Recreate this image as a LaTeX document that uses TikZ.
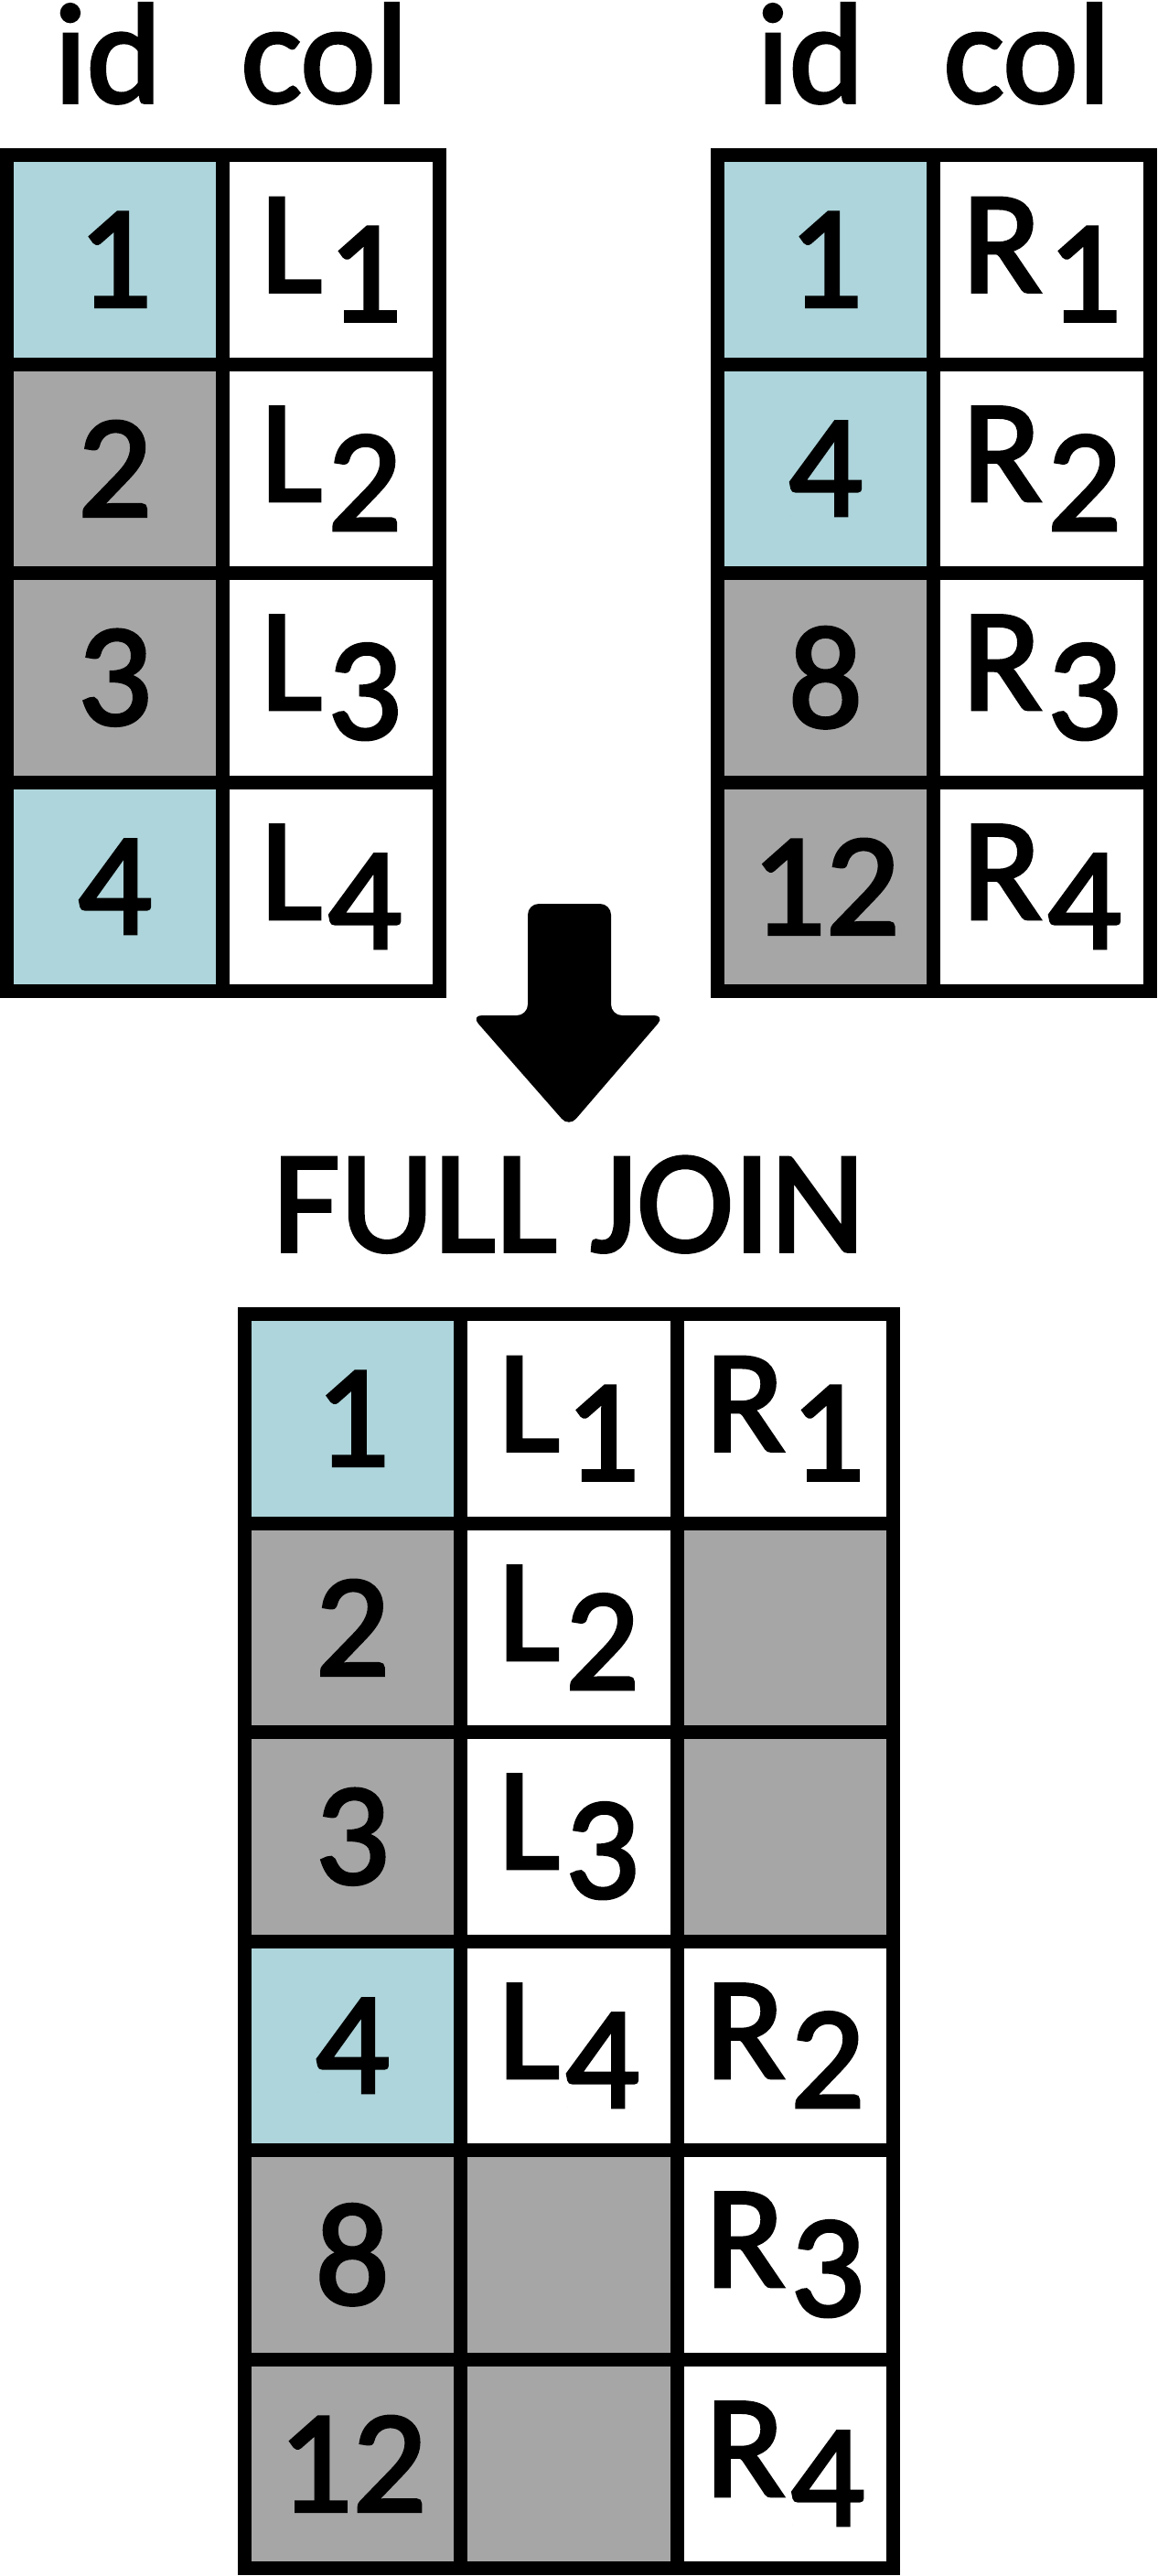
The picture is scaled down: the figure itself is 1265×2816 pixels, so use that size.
\documentclass[tikz,border=0pt]{standalone}
\usepackage{fontspec}
\setmainfont[FakeBold=2.3]{Carlito}
\usetikzlibrary{positioning}
\definecolor{keyblue}{HTML}{ADD5DB}
\definecolor{nokey}{HTML}{A6A6A6}
\newcommand{\sub}[2]{#1\kern1.5pt\raisebox{-8pt}{#2}}

\begin{document}
\begin{tikzpicture}[x=0.25pt,y=-0.25pt,node distance=0pt,
	cell/.style={draw=black,line width=3.75pt,fill=white,minimum width=59.125pt,minimum height=57.125pt,
		inner sep=0pt,outer sep=0pt,font=\fontsize{40}{48}\selectfont},
	match/.style={cell,fill=keyblue},
	nomatch/.style={cell,fill=nokey},
	head/.style={anchor=base,inner sep=0pt,font=\fontsize{39}{46}\selectfont}]
		\useasboundingbox (0,0) rectangle (1265,2816);

		% left table
		\node[head] (lid) at (118,112) {id};
		\node[head] (lcol) at (355,112) {col};
		\node[match] (l1) at (125.5,283.75) {1};
		\node[cell] (l1c) [right=of l1] {\sub{L}{1}};
		\node[nomatch] (l2) [below=of l1] {2};
		\node[cell] (l2c) [right=of l2] {\sub{L}{2}};
		\node[nomatch] (l3) [below=of l2] {3};
		\node[cell] (l3c) [right=of l3] {\sub{L}{3}};
		\node[match] (l4) [below=of l3] {4};
		\node[cell] (l4c) [right=of l4] {\sub{L}{4}};

		% right table
		\node[head] (rid) at (886,112) {id};
		\node[head] (rcol) at (1123,112) {col};
		\node[match] (r1) at (902.5,283.75) {1};
		\node[cell] (r1c) [right=of r1] {\sub{R}{1}};
		\node[match] (r2) [below=of r1] {4};
		\node[cell] (r2c) [right=of r2] {\sub{R}{2}};
		\node[nomatch] (r3) [below=of r2] {8};
		\node[cell] (r3c) [right=of r3] {\sub{R}{3}};
		\node[nomatch] (r4) [below=of r3] {12};
		\node[cell] (r4c) [right=of r4] {\sub{R}{4}};

		% arrow
		\fill[black,rounded corners=3pt] (577,988) -- (668,988) -- (668,1110) -- (727,1110)
			-- (622,1232) -- (515,1110) -- (577,1110) -- cycle;
		\node[head,font=\fontsize{40}{48}\selectfont] (join) at (622,1368) {FULL JOIN};

		% result
		\node[match] (f1) at (385.25,1550.75) {1};
		\node[cell] (f1l) [right=of f1] {\sub{L}{1}};
		\node[cell] (f1r) [right=of f1l] {\sub{R}{1}};
		\node[nomatch] (f2) [below=of f1] {2};
		\node[cell] (f2l) [right=of f2] {\sub{L}{2}};
		\node[nomatch] (f2r) [right=of f2l] {};
		\node[nomatch] (f3) [below=of f2] {3};
		\node[cell] (f3l) [right=of f3] {\sub{L}{3}};
		\node[nomatch] (f3r) [right=of f3l] {};
		\node[match] (f4) [below=of f3] {4};
		\node[cell] (f4l) [right=of f4] {\sub{L}{4}};
		\node[cell] (f4r) [right=of f4l] {\sub{R}{2}};
		\node[nomatch] (f5) [below=of f4] {8};
		\node[nomatch] (f5l) [right=of f5] {};
		\node[cell] (f5r) [right=of f5l] {\sub{R}{3}};
		\node[nomatch] (f6) [below=of f5] {12};
		\node[nomatch] (f6l) [right=of f6] {};
		\node[cell] (f6r) [right=of f6l] {\sub{R}{4}};
\end{tikzpicture}
\end{document}
